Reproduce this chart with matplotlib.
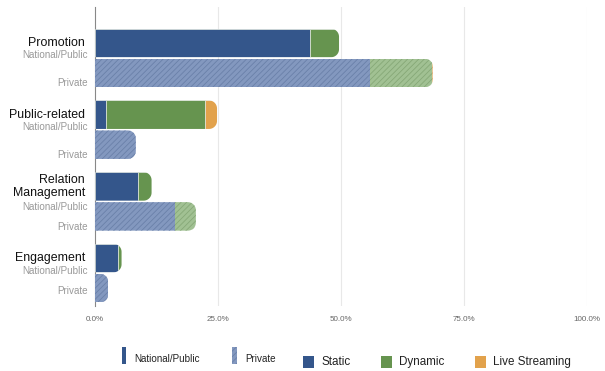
import numpy as np
import matplotlib
matplotlib.use("Agg")
import matplotlib.pyplot as plt
from matplotlib.patches import PathPatch, Rectangle
from matplotlib.path import Path
from matplotlib.transforms import blended_transform_factory

plt.rcParams['font.family'] = ['Liberation Sans', 'DejaVu Sans']
plt.rcParams['hatch.linewidth'] = 0.6

# data (percent of posts)
categories = ["Promotion", "Public-related", "Relation\nManagement", "Engagement"]
nat_static = [43.7, 2.2, 8.8, 4.7]
nat_dynamic = [5.9, 20.2, 2.7, 0.7]
nat_live = [0.0, 2.4, 0.0, 0.0]
priv_static = [55.8, 8.3, 16.3, 2.7]
priv_dynamic = [12.6, 0.0, 4.2, 0.0]
priv_live = [0.3, 0.0, 0.0, 0.0]
ticks = [0, 25, 50, 75, 100]

# colours
c_static = "#34568b"
c_dynamic = "#66944f"
c_live = "#e2a24c"
c_static_p = "#8398bf"
c_dynamic_p = "#a1c193"
c_live_p = "#ecc99a"
h_static_p = "#6a80a9"
h_dynamic_p = "#86a877"
h_live_p = "#d6ad78"

W, H = 605, 371
fig = plt.figure(figsize=(W / 100, H / 100), dpi=100)
ax_l, ax_r, ax_t, ax_b = 95, 587, 7, 306
ax = fig.add_axes([ax_l / W, 1 - ax_b / H, (ax_r - ax_l) / W, (ax_b - ax_t) / H])

px_per_unit = 71.7     # vertical distance between groups, pixels
first_center = 43      # pixel row of first national bar
ax.set_xlim(0, 100)
ax.set_ylim((ax_b - first_center) / px_per_unit, (ax_t - first_center) / px_per_unit)

x_per_px = 100 / (ax_r - ax_l)
y_per_px = 1 / px_per_unit
bar_h = 28.5 * y_per_px
priv_off = 30 * y_per_px
rx = 8 * x_per_px
ry = 8 * y_per_px

# label offsets (pixels) below the national bar centre
np_label_off = [12, 12, 21, 12.5]
pr_label_off = [40, 40, 41, 33]


def rounded_end(total, y0, y1):
    # rectangle from far left to total, right corners rounded
    r_x = min(rx, total)
    t = np.linspace(0, np.pi / 2, 12)
    verts = [(-10, y0)]
    # corner at (total, y0)
    for a in t[::-1]:
        verts.append((total - r_x + r_x * np.cos(a), y0 + ry - ry * np.sin(a)))
    for a in t:
        verts.append((total - r_x + r_x * np.cos(a), y1 - ry + ry * np.sin(a)))
    verts.append((-10, y1))
    verts.append((-10, y0))
    codes = [Path.MOVETO] + [Path.LINETO] * (len(verts) - 2) + [Path.CLOSEPOLY]
    return Path(verts, codes)


def draw_row(y, values, colors, hatch_colors=None):
    total = sum(values)
    if total <= 0:
        return
    clip = PathPatch(rounded_end(total, y - bar_h / 2, y + bar_h / 2),
                     facecolor="none", edgecolor="none", transform=ax.transData)
    ax.add_patch(clip)
    left = 0
    for k, v in enumerate(values):
        if v <= 0:
            continue
        if hatch_colors is None:
            bars = ax.barh(y, v, height=bar_h, left=left, color=colors[k],
                           edgecolor="#dfe6df", linewidth=0.5, zorder=3)
        else:
            bars = ax.barh(y, v, height=bar_h, left=left, color=colors[k],
                           edgecolor=hatch_colors[k], linewidth=0,
                           hatch="//////", zorder=3)
        for b in bars:
            b.set_clip_path(clip)
        left += v


trans = blended_transform_factory(ax.transAxes, ax.transData)
for i in range(len(categories)):
    y_nat = i
    y_priv = i + priv_off
    draw_row(y_nat, [nat_static[i], nat_dynamic[i], nat_live[i]],
             [c_static, c_dynamic, c_live])
    draw_row(y_priv, [priv_static[i], priv_dynamic[i], priv_live[i]],
             [c_static_p, c_dynamic_p, c_live_p],
             [h_static_p, h_dynamic_p, h_live_p])

    ax.text(-10 / 492, y_nat, categories[i], transform=trans, ha="right",
            va="center", fontsize=8.9, color="#111111", linespacing=1.15)
    ax.text(-7 / 492, y_nat + np_label_off[i] * y_per_px, "National/Public",
            transform=trans, ha="right", va="center", fontsize=7.1, color="#999999")
    ax.text(-7 / 492, y_nat + pr_label_off[i] * y_per_px, "Private",
            transform=trans, ha="right", va="center", fontsize=7.1, color="#999999")

# axes styling
ax.set_xticks(ticks)
ax.set_xticklabels(["%.1f%%" % t for t in ticks], fontsize=5.8, color="#666666")
ax.tick_params(axis="x", length=0, pad=7)
ax.set_yticks([])
for t in ticks[1:]:
    ax.axvline(t, color="#e8e8e8", linewidth=0.8, zorder=0)
for s in ["top", "right", "bottom"]:
    ax.spines[s].set_visible(False)
ax.spines["left"].set_color("#888888")
ax.spines["left"].set_linewidth(0.8)


# legend drawn by hand in figure pixels
def fx(p):
    return p / W


def fy(p):
    return 1 - p / H


fig.patches.append(Rectangle((fx(122), fy(364)), 3.5 / W, 17 / H, transform=fig.transFigure,
                             facecolor=c_static, edgecolor="none"))
fig.text(fx(134), fy(359), "National/Public", fontsize=7.1, va="center", color="#222222")
fig.patches.append(Rectangle((fx(232), fy(364)), 5 / W, 17 / H, transform=fig.transFigure,
                             facecolor=c_static_p, edgecolor=h_static_p, linewidth=0,
                             hatch="//////"))
fig.text(fx(245), fy(359), "Private", fontsize=7.1, va="center", color="#222222")
leg_items = [("Static", c_static, 303), ("Dynamic", c_dynamic, 381), ("Live Streaming", c_live, 475)]
for name, col, x0 in leg_items:
    fig.patches.append(Rectangle((fx(x0), fy(368)), 11 / W, 12 / H, transform=fig.transFigure,
                                 facecolor=col, edgecolor="none"))
    fig.text(fx(x0 + 18), fy(362), name, fontsize=8.4, va="center", color="#222222")

fig.savefig("out.png", dpi=100)
